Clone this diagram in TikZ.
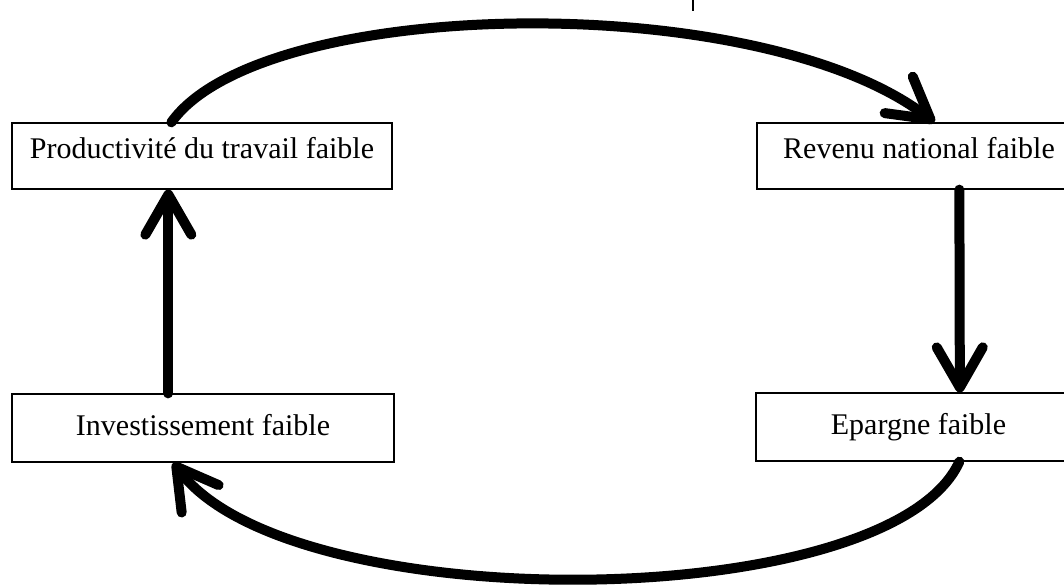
\documentclass[tikz,border=0pt]{standalone}
\usepackage{fontspec}
\setmainfont{Liberation Serif}
\usetikzlibrary{arrows.meta,calc}
\begin{document}
\begin{tikzpicture}[x=1pt,y=-1pt,
  box/.style={draw, line width=1.3pt, inner sep=0pt, font=\fontsize{30}{36}\selectfont, text height=20pt},
  boxup/.style={box, text depth=16pt},
  boxlow/.style={box, text depth=6pt},
  flow/.style={line width=10pt, line cap=round,
    -{Straight Barb[length=40pt, width=46pt, round]}}]
\clip (0,0) rectangle (1064,587);
\fill[white] (0,0) rectangle (1064,587);
\node[boxup, minimum width=380pt, minimum height=66pt] (prod) at (202,156) {Productivité du travail faible};
\node[boxup, minimum width=324pt, minimum height=66pt] (rev) at (919,156) {Revenu national faible};
\node[boxlow, minimum width=382pt, minimum height=68pt] (inv) at (203,428) {Investissement faible};
\node[boxlow, minimum width=325pt, minimum height=68pt] (epa) at (918.5,427) {Epargne faible};
\coordinate (tick1) at (693,0);
\coordinate (tick2) at (693,11);
\draw[line width=1.5pt] (tick1) -- (tick2);
% top arc
\draw[flow] ($(prod.north west)+(160,0)$) .. controls (262,-5) and (760,-12) .. ($(rev.north west)+(178,0)$);
% right vertical
\draw[flow] ($(rev.south west)+(203,0)$) -- ($(epa.north west)+(204.5,0)$);
% bottom arc
\draw[flow] ($(epa.south west)+(204,0)$) .. controls (890,615) and (290,620) .. ($(inv.south west)+(162,0)$);
% left vertical
\draw[flow] ($(inv.north west)+(157,0)$) -- ($(prod.south west)+(157,0)$);
\end{tikzpicture}
\end{document}
